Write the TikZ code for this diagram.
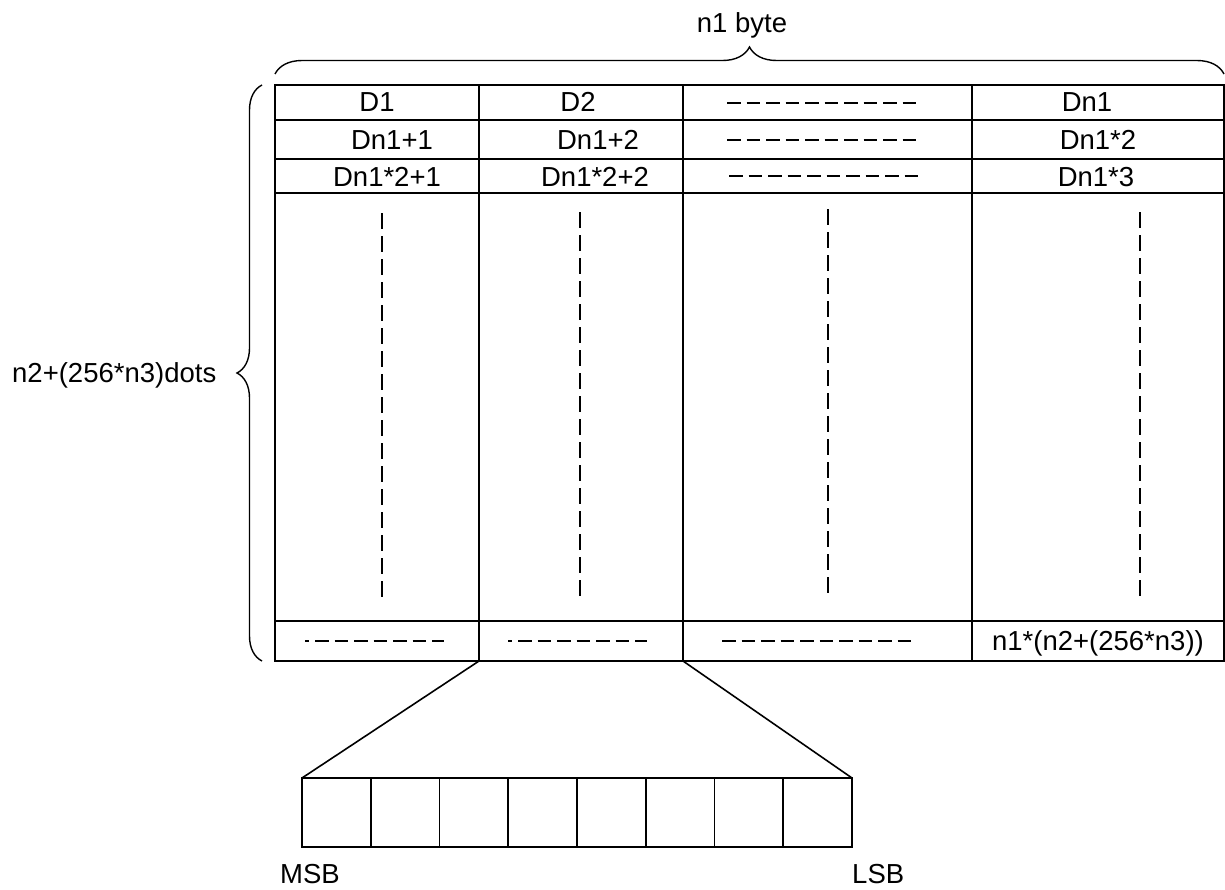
\documentclass[tikz,border=0pt]{standalone}
\usepackage{fontspec}
\setmainfont{Liberation Sans}
\usetikzlibrary{decorations.pathreplacing}
\begin{document}
\begin{tikzpicture}[x=1pt,y=-1pt,
  gridline/.style={line width=1.6pt},
  lbl/.style={inner sep=0pt, anchor=base, font=\fontsize{27.5}{33}\selectfont},
  vdash/.style={line width=1.5pt, dash pattern=on 16pt off 7pt},
  hdash/.style={line width=2pt, dash pattern=on 13.5pt off 6pt},
  bracestyle/.style={line width=1.4pt, decorate, decoration={brace, amplitude=#1}},
]
\useasboundingbox (0,0) rectangle (1225,889);

% table frame
\coordinate (tl) at (275,85);
\coordinate (br) at (1224,661);
\draw[gridline] (tl) rectangle (br);
\foreach \y in {120,159,193,621} \draw[gridline] (275,\y) -- (1224,\y);
\foreach \x in {479,683,972} \draw[gridline] (\x,85) -- (\x,661);

% row texts
\node[lbl] (d1)   at (377,111) {D1};
\node[lbl] (d2)   at (578,111) {D2};
\node[lbl] (dn1)  at (1087,111) {Dn1};
\node[lbl] (d21)  at (392,149.5) {Dn1+1};
\node[lbl] (d22)  at (598,149.5) {Dn1+2};
\node[lbl] (dn12) at (1098,149.5) {Dn1*2};
\node[lbl] (d31)  at (387,186.5) {Dn1*2+1};
\node[lbl] (d32)  at (595,186.5) {Dn1*2+2};
\node[lbl] (dn13) at (1096,186.5) {Dn1*3};
\node[lbl] (last) at (1098,650) {n1*(n2+(256*n3))};

% horizontal dashes
\draw[hdash] (727,102.5) -- (919,102.5);
\draw[hdash] (727,139.5) -- (919,139.5);
\draw[hdash] (729,175.5) -- (921,175.5);
\draw[hdash] (722,641) -- (914,641);
\draw[hdash, dash phase=9.5pt] (305,641) -- (444,641);
\draw[hdash, dash phase=9.5pt] (508,641) -- (647,641);

% vertical dashes
\draw[vdash] (382,213) -- (382,598);
\draw[vdash] (580,212) -- (580,597);
\draw[vdash] (828,209) -- (828,593);
\draw[vdash] (1140,212) -- (1140,597);

% braces
\draw[bracestyle=27pt] (275,74) -- (1224,74);
\node[lbl] (top) at (742,32) {n1 byte};
\draw[bracestyle=25pt] (262,661) -- (262,85);
\node[lbl, anchor=base west] (side) at (12,382) {n2+(256*n3)dots};

% byte box
\coordinate (bnw) at (302,778);
\coordinate (bse) at (852,847);
\coordinate (bne) at (852,778);
\draw[gridline] (bnw) rectangle (bse);
\foreach \i in {1,...,7} \draw[gridline] (302+68.75*\i,778) -- (302+68.75*\i,847);
\coordinate (c1) at (479,661);
\coordinate (c2) at (683,661);
\draw[gridline] (c1) -- (bnw);
\draw[gridline] (c2) -- (bne);
\node[lbl, anchor=base west] (msb) at (280,883) {MSB};
\node[lbl, anchor=base west] (lsb) at (852,883) {LSB};
\end{tikzpicture}
\end{document}
